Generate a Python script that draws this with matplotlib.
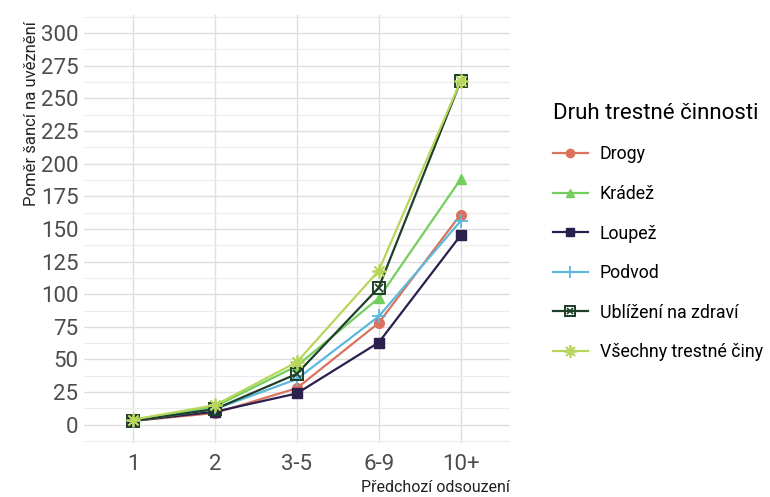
import matplotlib
matplotlib.use("Agg")
import matplotlib.pyplot as plt
from matplotlib.lines import Line2D
from matplotlib.legend_handler import HandlerTuple
from matplotlib.ticker import MultipleLocator

plt.rcParams['font.family'] = ['Roboto', 'DejaVu Sans']

categories = ["1", "2", "3-5", "6-9", "10+"]
drogy = [3, 9, 28, 78, 161]
kradez = [3, 14, 45, 97, 188]
loupez = [3, 10, 24, 63, 145]
podvod = [3, 12, 35, 83, 156]
ublizeni = [3, 12, 39, 105, 263]
vsechny = [4, 15, 48, 118, 263]
y_ticks = [0, 25, 50, 75, 100, 125, 150, 175, 200, 225, 250, 275, 300]

series = [
    ("Drogy", drogy, "#d9735e", "o"),
    ("Krádež", kradez, "#72cf5d", "^"),
    ("Loupež", loupez, "#2b1f4d", "s"),
    ("Podvod", podvod, "#5db8dc", "+"),
    ("Ublížení na zdraví", ublizeni, "#1e3f28", "boxx"),
    ("Všechny trestné činy", vsechny, "#b9d65c", "ast"),
]

fig = plt.figure(figsize=(7.7, 4.97), dpi=100)
ax = fig.add_axes([0.109, 0.109, 0.553, 0.861])
x = list(range(len(categories)))
handles = []
for name, vals, col, m in series:
    if m == "boxx":
        ax.plot(x, vals, color=col, lw=1.6, marker="s", ms=8, mfc="none", mew=1.4, zorder=3)
        ax.plot(x, vals, color=col, lw=0, marker="x", ms=6, mew=1.2, zorder=3)
        h = (Line2D([], [], color=col, lw=1.6, marker="s", ms=7, mfc="none", mew=1.4),
             Line2D([], [], color=col, lw=0, marker="x", ms=5, mew=1.2))
    elif m == "ast":
        ax.plot(x, vals, color=col, lw=1.6, marker=(8, 2, 0), ms=10, mew=1.3, zorder=3)
        h = Line2D([], [], color=col, lw=1.6, marker=(8, 2, 0), ms=9, mew=1.3)
    elif m == "+":
        ax.plot(x, vals, color=col, lw=1.6, marker="+", ms=10, mew=1.3, zorder=3)
        h = Line2D([], [], color=col, lw=1.6, marker="+", ms=9, mew=1.3)
    else:
        ax.plot(x, vals, color=col, lw=1.6, marker=m, ms=7, zorder=3)
        h = Line2D([], [], color=col, lw=1.6, marker=m, ms=6)
    handles.append(h)

ax.set_xlim(-0.6, len(categories) - 0.4)
ax.set_ylim(-13.8, 313.8)
ax.set_xticks(x)
ax.set_xticklabels(categories)
ax.set_yticks(y_ticks)
ax.yaxis.set_minor_locator(MultipleLocator(12.5))
ax.grid(True, which="major", color="#dedede", lw=1.0)
ax.grid(True, which="minor", axis="y", color="#ececec", lw=0.8)
ax.set_axisbelow(True)
for s in ax.spines.values():
    s.set_visible(False)
ax.tick_params(axis="both", which="both", length=0, labelsize=16, labelcolor="#4d4d4d")
ax.tick_params(axis="x", pad=8)
ax.tick_params(axis="y", pad=4)
ax.set_ylabel("Poměr šancí na uvěznění", fontsize=12, color="#222222", labelpad=4)
ax.yaxis.set_label_coords(-0.105, 0.77)
ax.set_xlabel("Předchozí odsouzení", fontsize=11.5, color="#222222")
ax.xaxis.set_label_coords(1.0, -0.088)
ax.xaxis.label.set_horizontalalignment("right")

leg = fig.legend(handles, [s[0] for s in series], loc="upper left",
                 bbox_to_anchor=(0.697, 0.825), frameon=False, fontsize=12.8,
                 title="Druh trestné činnosti", title_fontsize=16,
                 handlelength=2.0, labelspacing=1.21, handletextpad=0.65,
                 handler_map={tuple: HandlerTuple(ndivide=1)})
leg._legend_box.align = "left"

fig.savefig("out.png", dpi=100)
